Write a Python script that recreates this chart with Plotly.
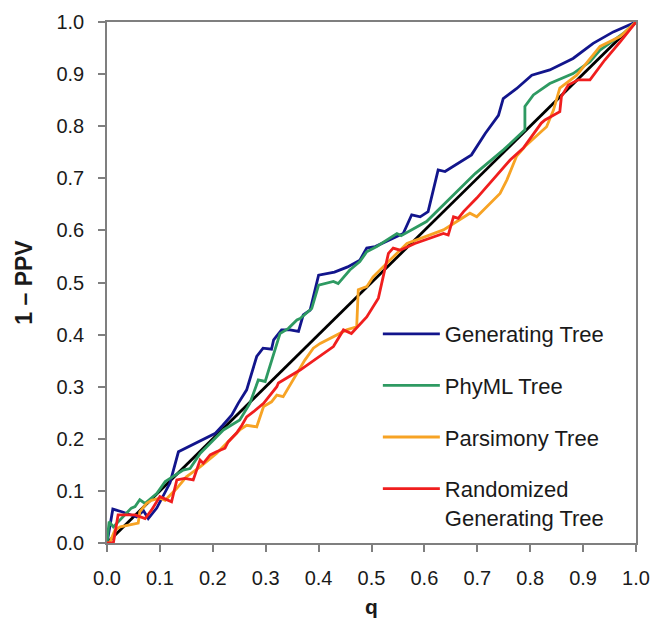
import plotly.graph_objects as go

# ---- data ----
diag_q = [0.0, 1.0]
diag_v = [0.0, 1.0]

gen_q = [0, 0.011, 0.028, 0.056, 0.069, 0.078, 0.094, 0.119, 0.135, 0.204, 0.219, 0.236, 0.248, 0.264,
         0.283, 0.295, 0.311, 0.315, 0.33, 0.346, 0.362, 0.371, 0.384, 0.4, 0.43, 0.455, 0.478, 0.491,
         0.507, 0.56, 0.576, 0.592, 0.607, 0.626, 0.639, 0.689, 0.715, 0.74, 0.749, 0.774, 0.803, 0.837,
         0.881, 0.919, 0.957, 1.0]
gen_v = [0, 0.065, 0.06, 0.05, 0.062, 0.047, 0.067, 0.115, 0.175, 0.21, 0.226, 0.246, 0.268, 0.294,
         0.358, 0.374, 0.372, 0.39, 0.409, 0.409, 0.406, 0.438, 0.447, 0.514, 0.52, 0.53, 0.543, 0.566,
         0.569, 0.594, 0.63, 0.626, 0.636, 0.716, 0.713, 0.745, 0.786, 0.821, 0.853, 0.872, 0.898, 0.908,
         0.93, 0.959, 0.981, 1.0]

phy_q = [0, 0.004, 0.012, 0.03, 0.046, 0.053, 0.062, 0.072, 0.094, 0.11, 0.144, 0.157, 0.176, 0.22,
         0.251, 0.27, 0.286, 0.299, 0.311, 0.327, 0.343, 0.359, 0.365, 0.387, 0.4, 0.428, 0.437, 0.459,
         0.478, 0.491, 0.51, 0.548, 0.556, 0.604, 0.696, 0.75, 0.79, 0.79, 0.806, 0.837, 0.881, 0.913,
         0.932, 0.976, 1.0]
phy_v = [0, 0.041, 0.031, 0.05, 0.067, 0.07, 0.083, 0.076, 0.095, 0.118, 0.14, 0.143, 0.172, 0.217,
         0.236, 0.268, 0.313, 0.31, 0.351, 0.402, 0.412, 0.428, 0.431, 0.45, 0.495, 0.502, 0.498, 0.524,
         0.54, 0.559, 0.569, 0.594, 0.59, 0.617, 0.709, 0.755, 0.793, 0.838, 0.86, 0.882, 0.901, 0.924,
         0.946, 0.978, 1.0]

par_q = [0, 0.005, 0.015, 0.025, 0.059, 0.062, 0.075, 0.084, 0.1, 0.11, 0.132, 0.15, 0.176, 0.207,
         0.251, 0.264, 0.283, 0.296, 0.311, 0.321, 0.333, 0.352, 0.374, 0.39, 0.403, 0.453, 0.472,
         0.475, 0.491, 0.503, 0.567, 0.636, 0.686, 0.699, 0.743, 0.756, 0.774, 0.79, 0.831, 0.844,
         0.856, 0.888, 0.913, 0.932, 0.97, 1.0]
par_v = [0, 0, 0.025, 0.031, 0.038, 0.06, 0.076, 0.082, 0.086, 0.082, 0.105, 0.127, 0.146, 0.172,
         0.217, 0.226, 0.223, 0.262, 0.271, 0.284, 0.281, 0.313, 0.351, 0.374, 0.383, 0.409, 0.415,
         0.486, 0.492, 0.511, 0.575, 0.601, 0.633, 0.626, 0.671, 0.697, 0.742, 0.761, 0.799, 0.831,
         0.873, 0.898, 0.93, 0.953, 0.972, 1.0]

rnd_q = [0, 0.012, 0.021, 0.053, 0.072, 0.084, 0.1, 0.122, 0.132, 0.147, 0.163, 0.176, 0.182,
         0.195, 0.207, 0.223, 0.229, 0.245, 0.255, 0.264, 0.277, 0.296, 0.321, 0.324, 0.365, 0.428,
         0.447, 0.462, 0.491, 0.513, 0.532, 0.541, 0.554, 0.582, 0.636, 0.645, 0.655, 0.664, 0.674,
         0.699, 0.762, 0.787, 0.821, 0.828, 0.856, 0.859, 0.872, 0.891, 0.913, 0.941, 0.97, 1.0]
rnd_v = [0, 0, 0.054, 0.054, 0.047, 0.063, 0.089, 0.079, 0.121, 0.124, 0.121, 0.159, 0.153,
         0.169, 0.175, 0.182, 0.194, 0.211, 0.226, 0.242, 0.252, 0.268, 0.3, 0.307, 0.332, 0.377,
         0.409, 0.402, 0.434, 0.47, 0.556, 0.566, 0.562, 0.575, 0.594, 0.591, 0.626, 0.623, 0.636,
         0.662, 0.735, 0.758, 0.806, 0.812, 0.828, 0.857, 0.879, 0.889, 0.889, 0.927, 0.962, 1.0]

tick_vals = [0.0, 0.1, 0.2, 0.3, 0.4, 0.5, 0.6, 0.7, 0.8, 0.9, 1.0]
tick_text = ["0.0", "0.1", "0.2", "0.3", "0.4", "0.5", "0.6", "0.7", "0.8", "0.9", "1.0"]

series = [
    ("Generating Tree", gen_q, gen_v, "#12158c"),
    ("PhyML Tree", phy_q, phy_v, "#2e9a62"),
    ("Parsimony Tree", par_q, par_v, "#f7a324"),
    ("Randomized<br>Generating Tree", rnd_q, rnd_v, "#f01e1e"),
]

FONT = "Liberation Sans, Arial, sans-serif"

fig = go.Figure()
fig.add_trace(go.Scatter(x=diag_q, y=diag_v, mode="lines", showlegend=False,
                         line=dict(color="#000000", width=2.8), hoverinfo="skip"))
for i, (name, q, v, col) in enumerate(series):
    fig.add_trace(go.Scatter(x=q, y=v, mode="lines", name=name, legendgroup=f"g{i}",
                             line=dict(color=col, width=2.8)))

axis_common = dict(
    range=[0, 1], tickvals=tick_vals, ticktext=tick_text,
    showgrid=False, zeroline=False, showline=True, linecolor="#7f7f7f", linewidth=1.5,
    mirror=True, ticks="outside", ticklen=7, tickwidth=1.5, tickcolor="#7f7f7f",
    tickfont=dict(family=FONT, size=20, color="#1a1a1a"),
)

fig.update_layout(
    width=664, height=633,
    margin=dict(l=107, r=28, t=22, b=90),
    paper_bgcolor="white", plot_bgcolor="white",
    font=dict(family=FONT, color="#1a1a1a"),
    xaxis=dict(axis_common, ticklabelstandoff=9,
               title=dict(text="<b>q</b>", font=dict(family=FONT, size=21), standoff=12)),
    yaxis=dict(axis_common, ticklabelstandoff=10,
               title=dict(text="<b>1 – PPV</b>", font=dict(family=FONT, size=23), standoff=17)),
    legend=dict(x=0.512, y=0.4415, xanchor="left", yanchor="top",
                font=dict(family=FONT, size=22, color="#1a1a1a"),
                bgcolor="rgba(0,0,0,0)", itemwidth=57, tracegroupgap=20, valign="top",
                itemclick=False, itemdoubleclick=False),
)

fig.write_html("out.html")
